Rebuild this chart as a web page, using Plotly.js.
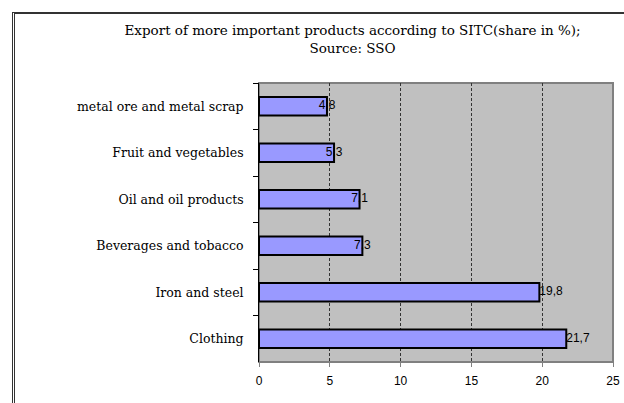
<!DOCTYPE html>
<html>
<head>
<meta charset="utf-8">
<script src="https://cdn.plot.ly/plotly-3.0.1.min.js"></script>
<style>
  html, body { margin: 0; padding: 0; background: #fff; }
  #wrap { position: relative; width: 624px; height: 403px; }
  #chart { width: 624px; height: 403px; }
  #frame { position: absolute; left: 12px; top: 12px; right: 0; bottom: 0;
           border-top: 2px solid #333; border-left: 3px double #333; pointer-events: none; }
</style>
</head>
<body>
<div id="wrap">
  <div id="chart"></div>
  <div id="frame"></div>
</div>
<script>
const categories = ["metal ore and metal scrap", "Fruit and vegetables", "Oil and oil products",
                    "Beverages and tobacco", "Iron and steel", "Clothing"];
const shares = [4.8, 5.3, 7.1, 7.3, 19.8, 21.7];
const shareLabels = ["4,8", "5,3", "7,1", "7,3", "19,8", "21,7"];
const labelPositions = ["middle center", "middle center", "middle center", "middle center", "middle right", "middle right"];
const xTicks = [0, 5, 10, 15, 20, 25];

const bars = {
  type: "bar",
  orientation: "h",
  y: categories,
  x: shares,
  width: 0.4,
  marker: { color: "#9999ff", line: { color: "#000", width: 2 } },
  hoverinfo: "skip",
  showlegend: false
};

const labels = {
  type: "scatter",
  mode: "text",
  y: categories,
  x: shares,
  text: shareLabels,
  textposition: labelPositions,
  textfont: { family: "Liberation Sans, Arial, sans-serif", size: 12, color: "#000" },
  cliponaxis: false,
  hoverinfo: "skip",
  showlegend: false
};

const layout = {
  width: 624,
  height: 403,
  margin: { l: 259, r: 11, t: 83, b: 41 },
  paper_bgcolor: "#ffffff",
  plot_bgcolor: "#c0c0c0",
  title: {
    text: "Export of more important products according to SITC(share in %);<br>Source: SSO",
    font: { family: "DejaVu Serif, serif", size: 13.5, color: "#000" },
    xref: "container", x: 0.565, xanchor: "center",
    yref: "container", y: 0.912, yanchor: "middle"
  },
  xaxis: {
    range: [0, 25],
    tickvals: xTicks,
    ticktext: xTicks.map(String),
    ticks: "outside", ticklen: 4, tickcolor: "#808080",
    ticklabelstandoff: 4,
    tickfont: { family: "Liberation Sans, Arial, sans-serif", size: 12, color: "#000" },
    showgrid: true, gridcolor: "#333", griddash: "3px,2px", gridwidth: 1,
    zeroline: false,
    showline: false,
    fixedrange: true
  },
  yaxis: {
    type: "category",
    autorange: "reversed",
    tickson: "boundaries",
    ticks: "outside", ticklen: 5, tickcolor: "#000",
    tickfont: { family: "DejaVu Serif, serif", size: 12.5, color: "#000" },
    showgrid: false,
    showline: true, linecolor: "#000", linewidth: 1,
    zeroline: false,
    ticksuffix: "   ",
    fixedrange: true
  },
  shapes: [
    { type: "rect", xref: "paper", yref: "paper", x0: 0, x1: 1, y0: 0, y1: 1,
      line: { color: "#808080", width: 2 }, layer: "below" }
  ],
  bargap: 0.6
};

Plotly.newPlot("chart", [bars, labels], layout, { displayModeBar: false, staticPlot: true });
</script>
</body>
</html>
